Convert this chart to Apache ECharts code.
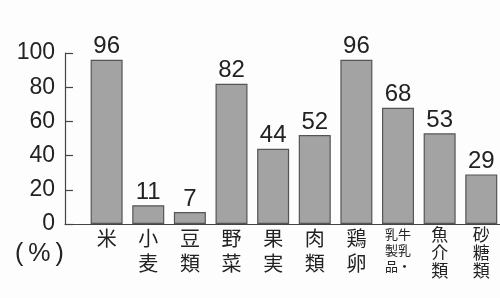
<!DOCTYPE html>
<html>
<head>
<meta charset="utf-8">
<script src="https://cdn.jsdelivr.net/npm/echarts@6/dist/echarts.min.js"></script>
<style>
  html, body { margin: 0; padding: 0; background: #fdfdfd; }
  #chart { width: 500px; height: 298px; }
</style>
</head>
<body>
<div id="chart"></div>
<script>
  // 品目ごとの値 (%)
  const categories = ['米', '小麦', '豆類', '野菜', '果実', '肉類', '鶏卵', '牛乳・乳製品', '魚介類', '砂糖類']
  const values = [96, 11, 7, 82, 44, 52, 96, 68, 53, 29]
  const yTicks = [0, 20, 40, 60, 80, 100]

  const numFont = '"Liberation Sans", Arial, sans-serif'
  const jpFont = '"Noto Sans CJK JP", sans-serif'

  // 縦書きラベル
  function verticalLabel (v) {
    if (v < 0 || v > 9 || Math.round(v) !== v) return ''
    const name = categories[v]
    if (name === '牛乳・乳製品') {
      // 右列: 牛乳・ 左列: 乳製品
      return '{s|乳牛}\n{s|製乳}\n{s|品・}'
    }
    const style = name.length > 2 ? 'c' : 'b'
    return name.split('').map(c => '{' + style + '|' + c + '}').join('\n')
  }

  const chart = echarts.init(document.getElementById('chart'))
  const option = {
    backgroundColor: '#fdfdfd',
    animation: false,
    title: {
      text: '(\u2009%\u2009)',
      left: 10,
      top: 237,
      textStyle: { fontFamily: numFont, fontSize: 25, fontWeight: 'normal', color: '#222' },
    },
    grid: { left: 65, right: 0, top: 53, bottom: 74 },
    xAxis: {
      type: 'value',
      min: -1,
      max: 9.45,
      interval: 1,
      splitLine: { show: false },
      axisLine: { show: true, lineStyle: { color: '#444', width: 1.2 } },
      axisTick: { show: false },
      axisLabel: {
        margin: 2,
        formatter: verticalLabel,
        showMinLabel: false,
        showMaxLabel: false,
        rich: {
          b: { fontFamily: jpFont, fontSize: 20, lineHeight: 25, color: '#222' },
          c: { fontFamily: jpFont, fontSize: 17, lineHeight: 18, color: '#222' },
          s: { fontFamily: jpFont, fontSize: 13, lineHeight: 16, color: '#222' },
        },
      },
    },
    yAxis: {
      type: 'value',
      min: yTicks[0],
      max: yTicks[yTicks.length - 1],
      interval: 20,
      splitLine: { show: false },
      axisLine: { show: true, onZero: false, lineStyle: { color: '#444', width: 1.2 } },
      axisTick: { show: true, inside: true, length: 8, lineStyle: { color: '#444', width: 1.2 } },
      axisLabel: { margin: 10, fontFamily: numFont, fontSize: 23, color: '#222' },
    },
    series: [{
      type: 'bar',
      barWidth: 32,
      data: values.map((v, i) => [i, v]),
      itemStyle: { color: '#a3a3a3', borderColor: '#555', borderWidth: 1.2 },
      label: {
        show: true,
        position: 'top',
        distance: 1,
        formatter: p => p.value[1],
        fontFamily: numFont,
        fontSize: 24,
        color: '#222',
      },
    }],
  }
  chart.setOption(option)
</script>
</body>
</html>
